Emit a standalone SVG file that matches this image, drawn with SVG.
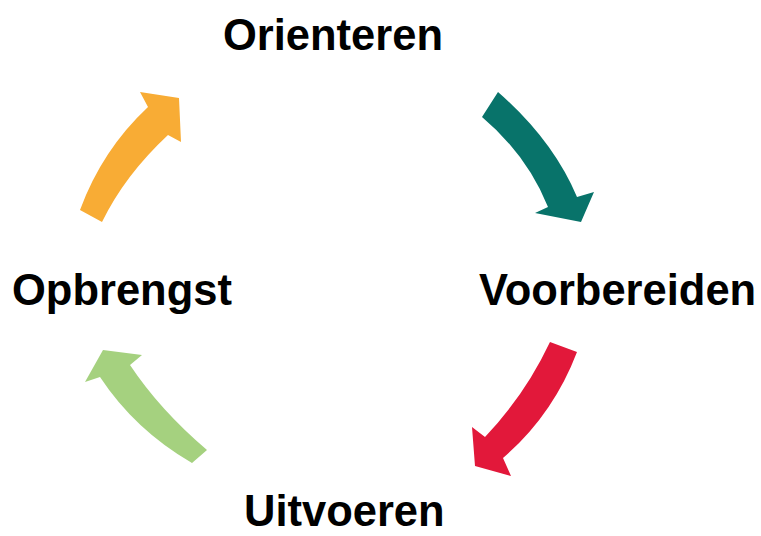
<svg xmlns="http://www.w3.org/2000/svg" width="761" height="536" viewBox="0 0 761 536">
<style>
text{font-family:"Liberation Sans",Arial,sans-serif;font-weight:bold;font-size:43.5px;fill:#000}
</style>
<rect width="761" height="536" fill="#fff"/>
<g id="connectors">
<path id="arrow-green" fill="#08736A" d="M498,92 Q553,140 577,197 L594,192 L581,222 L535,213 L548,207 Q527,155 482,117 Z"/>
<path id="arrow-red" fill="#E2183A" d="M577,352 Q553,415 503,458 L511,476 L475,466 L472,427 L485,437 Q525,395 550,342 Z"/>
<path id="arrow-lightgreen" fill="#A5D17F" d="M207,450 Q160,410 130,365 L142,355 L103,350 L85,382 L100,377 Q135,430 192,463 Z"/>
<path id="arrow-orange" fill="#F8AC35" d="M80,210 Q102,150 148,107 L140,92 L179,98 L181,142 L168,135 Q125,175 102,222 Z"/>
</g>
<g id="node-orienteren"><text x="333" y="50" text-anchor="middle">Orienteren</text></g>
<g id="node-voorbereiden"><text x="479" y="305">Voorbereiden</text></g>
<g id="node-uitvoeren"><text x="244" y="526">Uitvoeren</text></g>
<g id="node-opbrengst"><text x="12" y="305">Opbrengst</text></g>
</svg>
